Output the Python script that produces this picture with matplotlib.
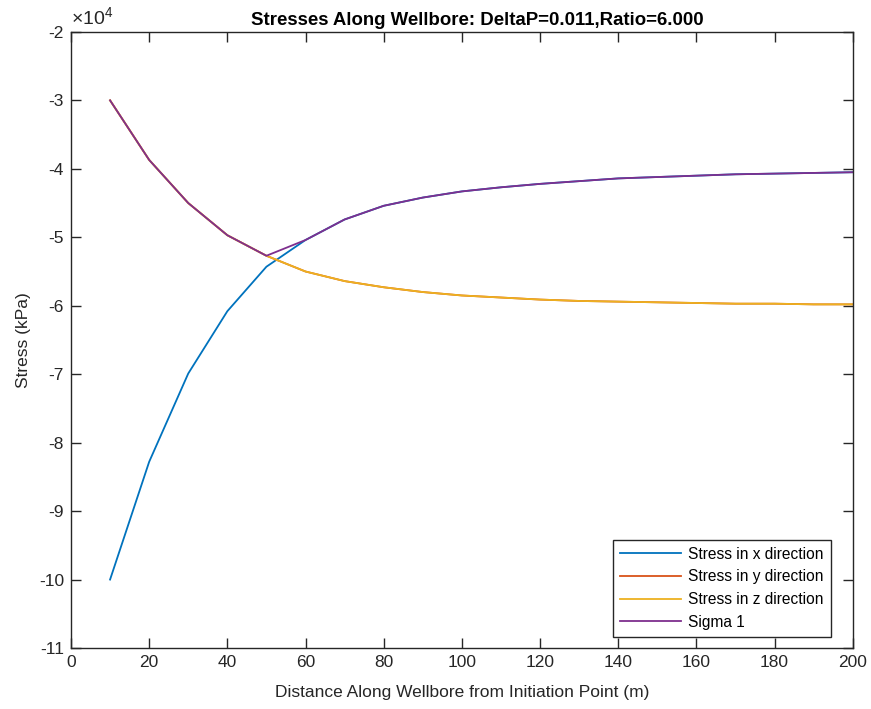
import matplotlib
matplotlib.use("Agg")
import matplotlib.pyplot as plt
from matplotlib.ticker import FuncFormatter, MultipleLocator

plt.rcParams['font.family'] = ['Liberation Sans', 'DejaVu Sans']
plt.rcParams['axes.unicode_minus'] = False
plt.rcParams['mathtext.fontset'] = 'custom'
plt.rcParams['mathtext.rm'] = 'Liberation Sans'

# Distance along the wellbore (m)
distance = [10, 20, 30, 40, 50, 60, 70, 80, 90, 100,
            110, 120, 130, 140, 150, 160, 170, 180, 190, 200]

# Stresses (kPa)
stress_x = [-100000, -82800, -69900, -60800, -54300, -50400, -47400, -45400, -44200, -43300,
            -42700, -42200, -41800, -41400, -41200, -41000, -40800, -40700, -40600, -40500]
stress_y = [-30000, -38700, -45000, -49700, -52700, -55000, -56400, -57300, -58000, -58500,
            -58800, -59100, -59300, -59400, -59500, -59600, -59700, -59700, -59800, -59800]
stress_z = [-30000, -38700, -45000, -49700, -52700, -55000, -56400, -57300, -58000, -58500,
            -58800, -59100, -59300, -59400, -59500, -59600, -59700, -59700, -59800, -59800]
sigma_1 = [-30000, -38700, -45000, -49700, -52700, -50400, -47400, -45400, -44200, -43300,
           -42700, -42200, -41800, -41400, -41200, -41000, -40800, -40700, -40600, -40500]

series = [
    (stress_x, '#0072BD', 'Stress in x direction'),
    (stress_y, '#D95319', 'Stress in y direction'),
    (stress_z, '#EDB120', 'Stress in z direction'),
    (sigma_1, '#7E2F8E', 'Sigma 1'),
]

axis_color = '#262626'

fig = plt.figure(figsize=(8.71, 7.09), dpi=100)
ax = fig.add_axes([0.0815, 0.086, 0.8975, 0.869])

for values, color, label in series:
    ax.plot(distance, values, color=color, lw=1.3, label=label)

ax.set_xlim(0, 200)
ax.set_ylim(-110000, -20000)
ax.xaxis.set_major_locator(MultipleLocator(20))
ax.yaxis.set_major_locator(MultipleLocator(10000))

# y labels in units of 10^4 with the exponent shown above the axis
ax.yaxis.set_major_formatter(FuncFormatter(lambda v, _: f'{v / 1e4:g}'))
ax.text(0.0, 1.004, r'$\times10^{4}$', transform=ax.transAxes, fontsize=14,
        color=axis_color, ha='left', va='bottom')

for spine in ax.spines.values():
    spine.set_color(axis_color)
    spine.set_linewidth(1.0)
ax.tick_params(direction='in', length=7, width=1.0, colors=axis_color,
               labelsize=12.5, top=True, right=True, pad=5)

ax.set_xlabel('Distance Along Wellbore from Initiation Point (m)', fontsize=12.5,
              color=axis_color, labelpad=11)
ax.set_ylabel('Stress (kPa)', fontsize=12.5, color=axis_color, labelpad=5.5)
ax.set_title('Stresses Along Wellbore: DeltaP=0.011,Ratio=6.000', fontsize=13.4,
             fontweight='bold', pad=5, x=0.52)

leg = ax.legend(loc='lower right', bbox_to_anchor=(0.972, 0.018), borderaxespad=0,
                fontsize=11.2, fancybox=False, framealpha=1, edgecolor=axis_color,
                handlelength=3.9, labelspacing=0.5, handletextpad=0.5, borderpad=0.45)
leg.get_frame().set_linewidth(1.0)

fig.savefig('out.png', dpi=100)
